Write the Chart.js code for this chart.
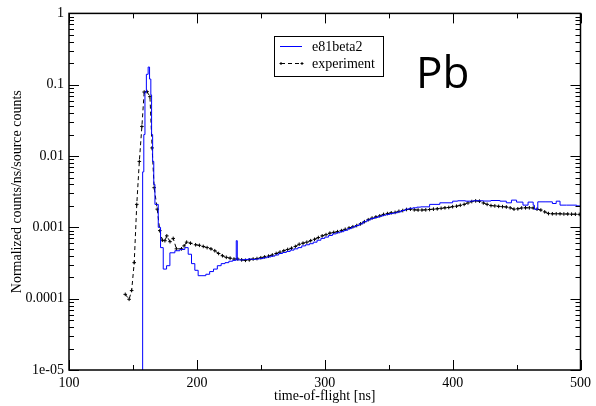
<!DOCTYPE html>
<html>
<head>
<meta charset="utf-8">
<script src="https://cdn.jsdelivr.net/npm/chart.js@4"></script>
<style>
html, body { margin: 0; padding: 0; background: #fff; }
</style>
</head>
<body>
<canvas id="tof" width="596" height="406"></canvas>
<script>
// e81beta2 simulation (histogram)
const simTimes = [157.5, 157.6, 158.5, 159.4, 160.5, 161.9, 163, 164, 164.6, 165.4, 166.3, 167.2, 169.8, 171.6, 173.7,
  176.3, 178.9, 182.8, 186.7, 190.6, 193.2, 195.8, 198.4,
  201, 204, 207, 210, 213, 216, 219, 222, 225, 228, 230.8, 231.6, 234, 237, 240, 243, 246, 249, 252, 255, 258,
  261, 264, 267, 270, 273, 276, 279, 282, 285, 288, 291, 294, 297, 300, 303, 306, 309, 312, 315, 318, 321, 324,
  327, 330, 333, 336, 339, 342, 345, 348, 351, 354, 357, 360, 363, 366, 369, 372, 375, 382, 390, 400, 404, 410,
  416, 424, 430, 437, 442, 446, 450, 455, 459, 463, 464, 466.6, 473, 478, 481, 484, 489, 497, 500];
const simValues = [1e-7, 0.006, 0.02, 0.079, 0.14, 0.177, 0.12, 0.072, 0.02, 0.0084, 0.004, 0.0021, 0.001, 5.2e-4, 2.6e-4,
  2.9e-4, 4.4e-4, 4.7e-4, 4.9e-4, 5.2e-4, 4.2e-4, 3.1e-4, 2.5e-4,
  2.1e-4, 2.1e-4, 2.2e-4, 2.4e-4, 2.6e-4, 2.9e-4, 3.1e-4, 3.2e-4, 3.35e-4, 3.45e-4, 6.5e-4, 3.5e-4, 3.5e-4, 3.55e-4, 3.6e-4, 3.55e-4, 3.6e-4, 3.65e-4, 3.75e-4, 3.85e-4, 3.95e-4,
  4.1e-4, 4.3e-4, 4.45e-4, 4.6e-4, 4.8e-4, 5.0e-4, 5.2e-4, 5.5e-4, 5.7e-4, 5.9e-4, 6.2e-4, 6.6e-4, 7.0e-4, 7.3e-4, 7.7e-4, 8.1e-4, 8.4e-4, 8.7e-4, 9.1e-4, 9.6e-4, 1.01e-3, 1.06e-3,
  1.12e-3, 1.2e-3, 1.27e-3, 1.33e-3, 1.38e-3, 1.43e-3, 1.48e-3, 1.52e-3, 1.56e-3, 1.6e-3, 1.65e-3, 1.72e-3, 1.8e-3, 1.85e-3, 1.88e-3, 1.92e-3, 1.94e-3, 2.1e-3, 2.21e-3, 2.33e-3, 2.36e-3, 2.33e-3,
  2.36e-3, 2.34e-3, 2.38e-3, 2.33e-3, 2.21e-3, 2.41e-3, 2.26e-3, 2.05e-3, 2.26e-3, 2.04e-3, 1.79e-3, 2.28e-3, 2.28e-3, 2.16e-3, 2.33e-3, 2.05e-3, 2.05e-3, 2.0e-3, 2.0e-3];

// experiment
const expTimes = [144, 147, 149, 151, 153, 155, 157, 158.8, 161, 163.3, 165, 166.6, 169, 171, 173, 175, 176.5, 179, 181.5,
  184, 188, 190, 192, 195,
  199, 202, 205, 208, 211, 214, 217, 220, 223, 226, 229, 232, 235, 238, 241, 244, 247, 250, 253, 256, 259, 262,
  265, 268, 271, 274, 277, 280, 283, 286, 289, 292, 295, 298, 301, 304, 307, 310, 313, 316, 319, 322, 325, 328,
  331, 334, 337, 340, 343, 346, 349, 352, 355, 358, 361, 364, 367, 370, 373, 376, 379, 382, 385, 388, 391, 394,
  397, 400, 403, 406, 409, 412, 415, 418, 421, 424, 427, 430, 433, 436, 439, 442, 445, 448, 451, 454, 457, 460,
  463, 466, 469, 472, 475, 478, 481, 484, 487, 490, 493, 496, 499];
const expValues = [1.15e-4, 9.8e-5, 1.3e-4, 3.2e-4, 2.1e-3, 8.4e-3, 0.026, 0.079, 0.08, 0.068, 0.013, 0.0036, 0.0018, 9e-4, 6.6e-4, 6.5e-4, 7.6e-4, 6.3e-4, 7e-4,
  5e-4, 5e-4, 5.5e-4, 6.2e-4, 6e-4,
  5.7e-4, 5.6e-4, 5.4e-4, 5.2e-4, 5.0e-4, 4.7e-4, 4.3e-4, 4.0e-4, 3.8e-4, 3.7e-4, 3.6e-4, 3.6e-4, 3.5e-4, 3.45e-4, 3.5e-4, 3.6e-4, 3.65e-4, 3.75e-4, 3.85e-4, 3.95e-4, 4.1e-4, 4.3e-4,
  4.5e-4, 4.7e-4, 4.9e-4, 5.1e-4, 5.4e-4, 5.8e-4, 6.0e-4, 6.2e-4, 6.5e-4, 6.8e-4, 7.2e-4, 7.6e-4, 7.9e-4, 8.3e-4, 8.5e-4, 8.7e-4, 9.0e-4, 9.4e-4, 9.8e-4, 1.02e-3, 1.06e-3, 1.12e-3,
  1.2e-3, 1.28e-3, 1.35e-3, 1.4e-3, 1.45e-3, 1.52e-3, 1.56e-3, 1.6e-3, 1.62e-3, 1.68e-3, 1.72e-3, 1.78e-3, 1.8e-3, 1.76e-3, 1.75e-3, 1.75e-3, 1.76e-3, 1.78e-3, 1.8e-3, 1.82e-3, 1.85e-3, 1.88e-3,
  1.9e-3, 1.95e-3, 1.98e-3, 2.04e-3, 2.1e-3, 2.2e-3, 2.3e-3, 2.35e-3, 2.33e-3, 2.2e-3, 2.1e-3, 2.02e-3, 2.0e-3, 1.97e-3, 1.95e-3, 1.93e-3, 1.88e-3, 1.8e-3, 1.82e-3, 1.87e-3, 1.88e-3, 1.88e-3,
  1.87e-3, 1.8e-3, 1.75e-3, 1.65e-3, 1.56e-3, 1.55e-3, 1.55e-3, 1.55e-3, 1.54e-3, 1.54e-3, 1.53e-3, 1.53e-3, 1.52e-3];

const yTickValues = [1e-5, 1e-4, 1e-3, 1e-2, 1e-1, 1];
const yTickLabels = ['1e-05', '0.0001', '0.001', '0.01', '0.1', '1'];
const seriesNames = ['e81beta2', 'experiment'];

const serif = '"Liberation Serif", "Times New Roman", serif';

// inward ticks on all four sides + frame
const frameTicks = {
  id: 'frameTicks',
  afterDatasetsDraw(chart) {
    const { ctx, chartArea: a, scales: { x, y } } = chart;
    ctx.save();
    ctx.strokeStyle = '#000';
    ctx.lineWidth = 1;
    ctx.beginPath();
    for (let v = 100; v <= 500; v += 50) {
      const px = Math.round(x.getPixelForValue(v)) + 0.5;
      const len = v % 100 === 0 ? 10 : 5;
      ctx.moveTo(px, a.bottom); ctx.lineTo(px, a.bottom - len);
      ctx.moveTo(px, a.top); ctx.lineTo(px, a.top + len);
    }
    for (let e = -5; e <= 0; e++) {
      for (let m = 1; m <= 9; m++) {
        if (e === 0 && m > 1) break;
        const py = Math.round(y.getPixelForValue(m * Math.pow(10, e))) + 0.5;
        const len = m === 1 ? 10 : 5;
        ctx.moveTo(a.left, py); ctx.lineTo(a.left + len, py);
        ctx.moveTo(a.right, py); ctx.lineTo(a.right - len, py);
      }
    }
    ctx.stroke();
    ctx.lineWidth = 1.5;
    ctx.strokeRect(a.left, a.top, a.right - a.left, a.bottom - a.top);
    ctx.restore();
  }
};

// boxed legend and the "Pb" label
const legendBox = {
  id: 'legendBox',
  afterDraw(chart) {
    const ctx = chart.ctx;
    ctx.save();
    ctx.fillStyle = '#fff';
    ctx.fillRect(274.5, 36.5, 109, 40);
    ctx.strokeStyle = '#000';
    ctx.lineWidth = 1;
    ctx.strokeRect(274.5, 36.5, 109, 40);

    ctx.strokeStyle = '#0000ff';
    ctx.beginPath(); ctx.moveTo(280, 46.5); ctx.lineTo(302, 46.5); ctx.stroke();

    ctx.strokeStyle = '#000';
    ctx.setLineDash([4, 3]);
    ctx.beginPath(); ctx.moveTo(281, 63.5); ctx.lineTo(302, 63.5); ctx.stroke();
    ctx.setLineDash([]);
    ctx.beginPath();
    [281, 302].forEach(px => {
      ctx.moveTo(px - 1.5, 63.5); ctx.lineTo(px + 1.5, 63.5);
      ctx.moveTo(px, 62); ctx.lineTo(px, 65);
    });
    ctx.stroke();

    ctx.fillStyle = '#000';
    ctx.font = '14px ' + serif;
    ctx.textBaseline = 'middle';
    ctx.fillText(seriesNames[0], 312, 47);
    ctx.fillText(seriesNames[1], 312, 64);

    ctx.font = '44px "Open Sans", sans-serif';
    ctx.textBaseline = 'alphabetic';
    ctx.fillText('Pb', 416, 88);
    ctx.restore();
  }
};

new Chart(document.getElementById('tof'), {
  type: 'line',
  data: {
    datasets: [{
      label: seriesNames[0],
      data: simTimes.map((t, i) => ({ x: t, y: simValues[i] })),
      borderColor: '#0000ff',
      borderWidth: 1,
      pointRadius: 0,
      stepped: 'before',
      fill: false
    }, {
      label: seriesNames[1],
      data: expTimes.map((t, i) => ({ x: t, y: expValues[i] })),
      borderColor: '#000',
      borderWidth: 1,
      borderDash: [4, 3],
      pointStyle: 'cross',
      pointRadius: 1.8,
      pointBorderColor: '#000',
      pointBorderWidth: 1,
      tension: 0,
      fill: false
    }]
  },
  options: {
    responsive: false,
    animation: false,
    layout: { padding: { left: 0, top: 11, right: 15, bottom: 0 } },
    plugins: { legend: { display: false }, tooltip: { enabled: false } },
    scales: {
      x: {
        type: 'linear',
        min: 100,
        max: 500,
        grid: { display: false, drawTicks: false },
        border: { display: false },
        ticks: { stepSize: 100, padding: 5, color: '#000', font: { family: serif, size: 14 } },
        title: { display: true, text: 'time-of-flight [ns]', color: '#000', font: { family: serif, size: 14 }, padding: { top: 0, bottom: 1 } },
        afterFit(axis) { axis.height = 36; }
      },
      y: {
        type: 'logarithmic',
        min: 1e-5,
        max: 1,
        grid: { display: false, drawTicks: false },
        border: { display: false },
        afterBuildTicks(axis) { axis.ticks = yTickValues.map(v => ({ value: v, major: true })); },
        ticks: {
          padding: 5,
          color: '#000',
          font: { family: serif, size: 14 },
          callback: (v, i) => yTickLabels[i]
        },
        title: { display: true, text: 'Normalized counts/ns/source counts', color: '#000', font: { family: serif, size: 14 }, padding: { top: 9, bottom: 0 } },
        afterFit(axis) { axis.width = 69; }
      }
    }
  },
  plugins: [frameTicks, legendBox]
});
</script>
</body>
</html>
